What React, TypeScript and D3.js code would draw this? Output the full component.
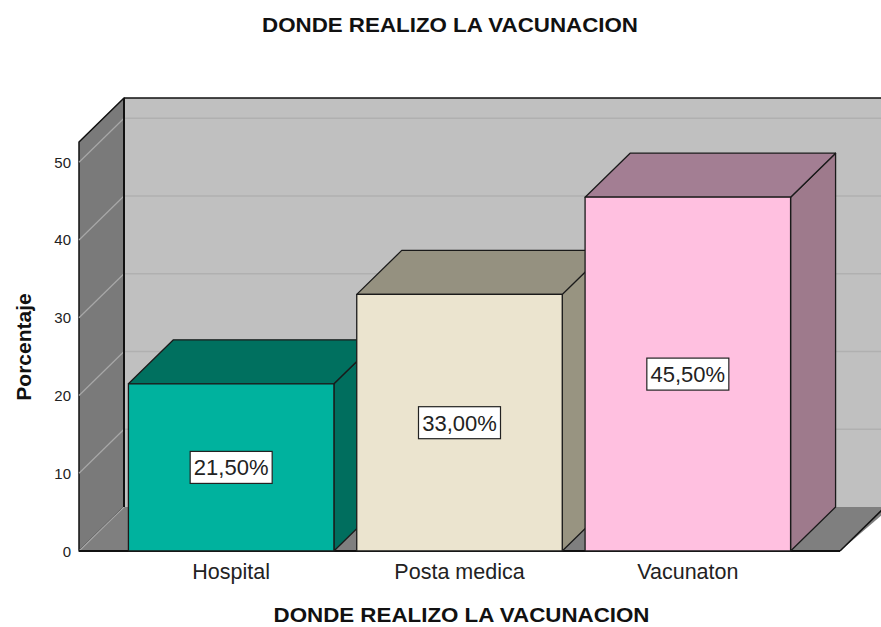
import React from 'react';
import * as d3 from 'd3';

const categories = ['Hospital', 'Posta medica', 'Vacunaton'];
const percentages = [21.5, 33.0, 45.5];
const barLabels = ['21,50%', '33,00%', '45,50%'];
const yTicks = [0, 10, 20, 30, 40, 50];

// front / top / side shades for each bar
const frontColors = ['#00B29E', '#EBE4CF', '#FFC0E0'];
const topColors = ['#00705F', '#959180', '#A37E93'];
const sideColors = ['#006E5E', '#989481', '#9E7A8C'];

const W = 881;
const H = 627;
const DX = 45; // depth offset
const DY = 44;
const FONT = 'Arial, "Liberation Sans", sans-serif';
const TITLE = 'DONDE REALIZO LA VACUNACION';

const App = () => {
  const x = d3.scaleBand<string>()
    .domain(categories)
    .range([117, 802])
    .paddingInner(0.1)
    .paddingOuter(0.05);

  const y = d3.scaleLinear().domain([0, 52.6]).range([551, 142]);

  const left = 79;
  const floorRight = 840;
  const y0 = y(0);
  const yTop = y(52.6);

  const poly = (pts: [number, number][]) => pts.map(p => p.join(',')).join(' ');

  return (
    <svg width={W} height={H} style={{ display: 'block', position: 'absolute', left: 0, top: 0 }}>
      <rect width={W} height={H} fill="#fff" />
      {/* back wall */}
      <polygon
        points={poly([[left + DX, yTop - DY], [W + 10, yTop - DY], [W + 10, y0 - DY], [left + DX, y0 - DY]])}
        fill="#C0C0C0"
      />
      {/* left wall */}
      <polygon
        points={poly([[left, yTop], [left + DX, yTop - DY], [left + DX, y0 - DY], [left, y0]])}
        fill="#7A7A7A"
        stroke="#111"
        strokeWidth={1.5}
        strokeLinejoin="round"
      />
      {/* floor */}
      <polygon
        points={poly([[left, y0], [left + DX, y0 - DY], [W + 10, y0 - DY], [floorRight, y0]])}
        fill="#7F7F7F"
      />
      {/* gridlines */}
      {yTicks.map(t => (
        <g key={t}>
          {t > 0 && (
            <line x1={left + DX} x2={W + 10} y1={y(t) - DY} y2={y(t) - DY} stroke="#B0B0B0" strokeWidth={1.5} />
          )}
          <line x1={left} y1={y(t)} x2={left + DX} y2={y(t) - DY} stroke="#A8A8A8" strokeWidth={1.2} />
        </g>
      ))}
      {/* wall edges */}
      <line x1={left + DX} x2={W + 10} y1={yTop - DY} y2={yTop - DY} stroke="#111" strokeWidth={1.5} />
      <line x1={left + DX} x2={left + DX} y1={yTop - DY} y2={y0 - DY} stroke="#111" strokeWidth={2} />
      <line x1={floorRight} y1={y0} x2={floorRight + DX} y2={y0 - DY} stroke="#111" strokeWidth={1.5} />
      <line x1={left} x2={floorRight} y1={y0} y2={y0} stroke="#111" strokeWidth={2} />

      {/* bars */}
      {categories.map((c, i) => {
        const x0 = x(c) as number;
        const x1 = x0 + x.bandwidth();
        const yt = y(percentages[i]);
        return (
          <g key={c} stroke="#1a1a1a" strokeWidth={1.3} strokeLinejoin="round">
            <polygon points={poly([[x1, yt], [x1 + DX, yt - DY], [x1 + DX, y0 - DY], [x1, y0]])} fill={sideColors[i]} />
            <polygon points={poly([[x0, yt], [x0 + DX, yt - DY], [x1 + DX, yt - DY], [x1, yt]])} fill={topColors[i]} />
            <rect x={x0} y={yt} width={x1 - x0} height={y0 - yt} fill={frontColors[i]} />
          </g>
        );
      })}

      {/* bar labels */}
      {categories.map((c, i) => {
        const cx = (x(c) as number) + x.bandwidth() / 2;
        const cy = (y(percentages[i]) + y0) / 2;
        const bw = 82;
        const bh = 32;
        return (
          <g key={c}>
            <rect x={cx - bw / 2} y={cy - bh / 2} width={bw} height={bh} fill="#fff" stroke="#222" strokeWidth={1.2} />
            <text x={cx} y={cy + 8} textAnchor="middle" fontFamily={FONT} fontSize={22} fill="#222">
              {barLabels[i]}
            </text>
          </g>
        );
      })}

      {/* y ticks */}
      {yTicks.map(t => (
        <text key={t} x={71} y={y(t) + 5.5} textAnchor="end" fontFamily={FONT} fontSize={15} fill="#222">
          {t}
        </text>
      ))}

      {/* category labels */}
      {categories.map(c => (
        <text key={c} x={(x(c) as number) + x.bandwidth() / 2} y={579} textAnchor="middle" fontFamily={FONT} fontSize={21.5} fill="#222">
          {c}
        </text>
      ))}

      <text x={450} y={32} textAnchor="middle" fontFamily={FONT} fontSize={21} fontWeight="bold" fill="#111"
        textLength={376} lengthAdjust="spacingAndGlyphs">
        {TITLE}
      </text>
      <text x={461.5} y={622} textAnchor="middle" fontFamily={FONT} fontSize={21} fontWeight="bold" fill="#111"
        textLength={376} lengthAdjust="spacingAndGlyphs">
        {TITLE}
      </text>
      <text
        transform="translate(31,347) rotate(-90)"
        textAnchor="middle"
        fontFamily={FONT}
        fontSize={21}
        fontWeight="bold"
        fill="#111"
      >
        Porcentaje
      </text>
    </svg>
  );
};

export default App;
